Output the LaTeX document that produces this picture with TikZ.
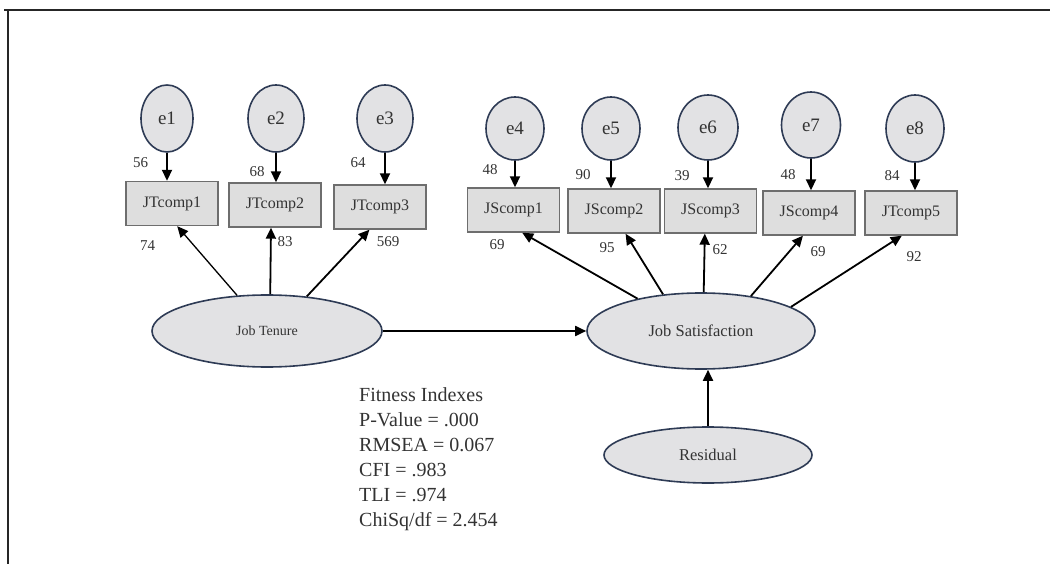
\documentclass[tikz,border=0pt]{standalone}
\usepackage{fontspec}
\setmainfont{Liberation Serif}
\usetikzlibrary{arrows.meta,shapes.geometric}
\definecolor{efill}{HTML}{E2E2E4}
\definecolor{eline}{HTML}{2E3B55}
\definecolor{bfill}{HTML}{DEDEDE}
\definecolor{bline}{HTML}{6E6E6E}
\definecolor{txt}{HTML}{333333}
\tikzset{
  errnode/.style={ellipse, draw=eline, fill=efill, line width=1.6pt, minimum width=56pt, minimum height=65pt, inner sep=0pt, text=txt, font=\fontsize{19}{19}\selectfont},
  latent/.style={ellipse, draw=eline, fill=efill, line width=1.6pt, inner sep=0pt, text=txt},
  obsbox/.style={rectangle, draw=bline, fill=bfill, line width=1.4pt, minimum width=92pt, minimum height=44pt, inner sep=0pt, text=txt, font=\fontsize{16}{16}\selectfont},
  lbl/.style={inner sep=0pt, text=txt, font=\fontsize{15}{15}\selectfont},
  arr/.style={draw=black, line width=1.8pt, -{Triangle[length=11pt,width=10pt]}},
  thinarr/.style={draw=black, line width=1.3pt, -{Triangle[length=11pt,width=10pt]}},
}
\begin{document}
\begin{tikzpicture}[x=1pt,y=-1pt]
\useasboundingbox (0,0) rectangle (1050,564);
% frame
\draw[line width=2.5pt, color=black!85] (4,10) -- (1050,10);
\draw[line width=2.5pt, color=black!85] (8,10) -- (8,564);

% error terms
\node[errnode, minimum height=67pt, minimum width=52pt] (e1) at (167,118.5) {e1};
\node[errnode, minimum height=67pt, minimum width=56pt] (e2) at (276,118.5) {e2};
\node[errnode, minimum height=67pt, minimum width=56pt] (e3) at (385,118.5) {e3};
\node[errnode, minimum height=63pt, minimum width=58pt] (e4) at (515,128.5) {e4};
\node[errnode, minimum height=63pt, minimum width=58pt] (e5) at (611,128.5) {e5};
\node[errnode, minimum height=65pt, minimum width=60pt] (e6) at (708,127.5) {e6};
\node[errnode, minimum height=66pt, minimum width=59pt] (e7) at (811,125) {e7};
\node[errnode, minimum height=67pt, minimum width=58pt] (e8) at (915,128.5) {e8};

% observed boxes
\node[obsbox] (JTc1) at (172,203.5) {JTcomp1};
\node[obsbox] (JTc2) at (275,205) {JTcomp2};
\node[obsbox] (JTc3) at (380,207) {JTcomp3};
\node[obsbox] (JSc1) at (513.5,210) {JScomp1};
\node[obsbox] (JSc2) at (614,211) {JScomp2};
\node[obsbox] (JSc3) at (710.5,211) {JScomp3};
\node[obsbox] (JSc4) at (809,213) {JScomp4};
\node[obsbox] (JTc5) at (911,213) {JTcomp5};

% latent variables
\node[latent, minimum width=230pt, minimum height=72pt, font=\fontsize{14}{14}\selectfont] (JT) at (267,331) {Job Tenure};
\node[latent, minimum width=228pt, minimum height=76pt, font=\fontsize{16.5}{16.5}\selectfont] (JS) at (701,331) {Job Satisfaction};
\node[latent, minimum width=208pt, minimum height=56pt, font=\fontsize{16.5}{16.5}\selectfont] (Res) at (708,455) {Residual};

% error arrows
\foreach \e/\b in {e1/JTc1,e2/JTc2,e3/JTc3,e4/JSc1,e5/JSc2,e6/JSc3,e7/JSc4,e8/JTc5}
  \draw[arr] (\e.south) -- (\e.south |- \b.north);

% loadings
\draw[thinarr] (JT.130) -- (JTc1.-77);
\draw[arr] (JT.85) -- (JTc2.-100);
\draw[arr] (JT.41) -- (JTc3.-115);
\draw[arr] (JS.153) -- (JSc1.-69);
\draw[arr] (JS.136) -- (JSc2.-63);
\draw[arr] (JS.86) -- (JSc3.-104);
\draw[arr] (JS.35) -- (JSc4.-105);
\draw[arr] (JS.15) -- (JTc5.-112);

% structural paths
\draw[arr] (JT.east) -- (JS.west);
\draw[arr] (Res.north) -- (Res.north |- JS.south);

% labels
\node[lbl] (l56) at (140.5,162.5) {56};
\node[lbl] (l68) at (257,172) {68};
\node[lbl] (l64) at (358,163) {64};
\node[lbl] (l74) at (147.5,246) {74};
\node[lbl] (l83) at (285,242) {83};
\node[lbl] (l569) at (388,242) {569};
\node[lbl] (l48a) at (490,170) {48};
\node[lbl] (l90) at (583,175) {90};
\node[lbl] (l39) at (682,176) {39};
\node[lbl] (l48b) at (788,175) {48};
\node[lbl] (l84) at (892,176) {84};
\node[lbl] (l69a) at (497,245) {69};
\node[lbl] (l95) at (607,248) {95};
\node[lbl] (l62) at (720,250) {62};
\node[lbl] (l69b) at (818,252) {69};
\node[lbl] (l92) at (914,257) {92};

% fitness indexes
\node[anchor=north west, inner sep=0pt, align=left, text=txt, font=\fontsize{20}{25}\selectfont] (fit) at (359,387)
 {Fitness Indexes\\P-Value = .000\\RMSEA = 0.067\\CFI = .983\\TLI = .974\\ChiSq/df = 2.454};
\end{tikzpicture}
\end{document}
